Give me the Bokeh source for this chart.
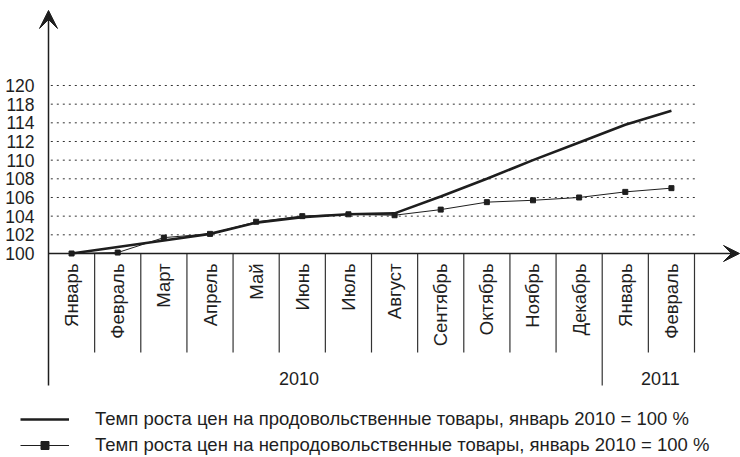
import math
from bokeh.plotting import figure
from bokeh.models import (Range1d, LinearAxis, FixedTicker, Arrow, VeeHead,
                          Legend, LegendItem, ColumnDataSource)
from bokeh.core.properties import value
from bokeh.embed import file_html
from bokeh.resources import INLINE

# ---------------- data ----------------
months = ["Январь", "Февраль", "Март", "Апрель", "Май", "Июнь", "Июль",
          "Август", "Сентябрь", "Октябрь", "Ноябрь", "Декабрь",
          "Январь", "Февраль"]
years = ["2010", "2011"]
year_start_index = [0, 12]
# values in axis units (the axis skips 116: label "118" sits on the 9th line)
food = [100.0, 100.7, 101.4, 102.1, 103.3, 103.9, 104.2, 104.3,
        106.1, 108.0, 110.0, 111.9, 113.8, 115.3]
nonfood = [100.0, 100.1, 101.7, 102.1, 103.4, 104.0, 104.2, 104.1,
           104.7, 105.5, 105.7, 106.0, 106.6, 107.0]
tick_values = [100, 102, 104, 106, 108, 110, 112, 114, 116, 118]
tick_labels = ["100", "102", "104", "106", "108", "110", "112", "114",
               "118", "120"]
legend_labels = [
    "Темп роста цен на продовольственные товары, январь 2010 = 100 %",
    "Темп роста цен на непродовольственные товары, январь 2010 = 100 %",
]

FONT = "Liberation Sans"
INK = "#1e1e1e"

x_centers = [i + 0.5 for i in range(len(months))]

p = figure(width=740, height=457,
           x_range=Range1d(-1.0403, 14.997), y_range=Range1d(78.14, 127.107),
           output_backend="svg", toolbar_location=None,
           x_axis_type=None, y_axis_type=None,
           min_border_left=0, min_border_right=0,
           min_border_top=0, min_border_bottom=0)
p.outline_line_color = None
p.background_fill_color = "white"
p.border_fill_color = "white"

# y axis labels (no line, no ticks), drawn at x = 0 inside the frame
yax = LinearAxis(ticker=FixedTicker(ticks=tick_values), fixed_location=0)
yax.major_label_overrides = {v: l for v, l in zip(tick_values, tick_labels)}
yax.axis_line_color = None
yax.major_tick_line_color = None
yax.minor_tick_line_color = None
yax.major_label_standoff = 8
yax.major_label_text_font = FONT
yax.major_label_text_font_size = "17.5px"
yax.major_label_text_color = INK
p.add_layout(yax, "left")

# dotted horizontal grid lines
grid_vals = tick_values[1:]
p.segment(x0=[0.05] * len(grid_vals), y0=grid_vals,
          x1=[14.05] * len(grid_vals), y1=grid_vals,
          line_color="#333333", line_width=1, line_dash="2 4")

# month column separators
bounds = list(range(1, len(months) + 1))
bottoms = [85.86 if b in year_start_index else 89.39 for b in bounds]
p.segment(x0=bounds, y0=[100] * len(bounds), x1=bounds, y1=bottoms,
          line_color="#333333", line_width=1.2)

# axes with arrows
p.add_layout(Arrow(end=VeeHead(size=18, fill_color=INK, line_color=INK),
                   x_start=0, y_start=85.86, x_end=0, y_end=126.04,
                   line_color=INK, line_width=1.5))
p.add_layout(Arrow(end=VeeHead(size=16, fill_color=INK, line_color=INK),
                   x_start=0, y_start=100, x_end=14.976, y_end=100,
                   line_color=INK, line_width=1.5))

# month labels
p.text(x=x_centers, y=[98.93] * len(months), text=months, angle=math.pi / 2,
       text_align="right", text_baseline="middle",
       text_font=value(FONT), text_font_size="18.5px", text_color=INK)

# year labels
p.text(x=[5.43, 13.26], y=[86.6, 86.6], text=years,
       text_align="center", text_baseline="middle",
       text_font=value(FONT), text_font_size="18px", text_color=INK)

# series
src = ColumnDataSource(dict(x=x_centers, food=food, nonfood=nonfood))
r_food = p.line("x", "food", source=src, line_color=INK, line_width=2.6)
r_non = p.line("x", "nonfood", source=src, line_color=INK, line_width=1)
r_non_m = p.scatter("x", "nonfood", source=src, marker="square", size=5,
                    fill_color=INK, line_color=INK)

legend = Legend(items=[LegendItem(label=legend_labels[0], renderers=[r_food]),
                       LegendItem(label=legend_labels[1], renderers=[r_non, r_non_m])],
                location=(20, 1), orientation="vertical",
                glyph_width=49, glyph_height=20, label_height=20,
                label_standoff=26, spacing=4, padding=0, margin=0,
                border_line_color=None, background_fill_alpha=0,
                label_text_font=FONT, label_text_font_size="18.5px",
                label_text_color=INK)
p.add_layout(legend)

open("out.html", "w").write(file_html(p, INLINE))
